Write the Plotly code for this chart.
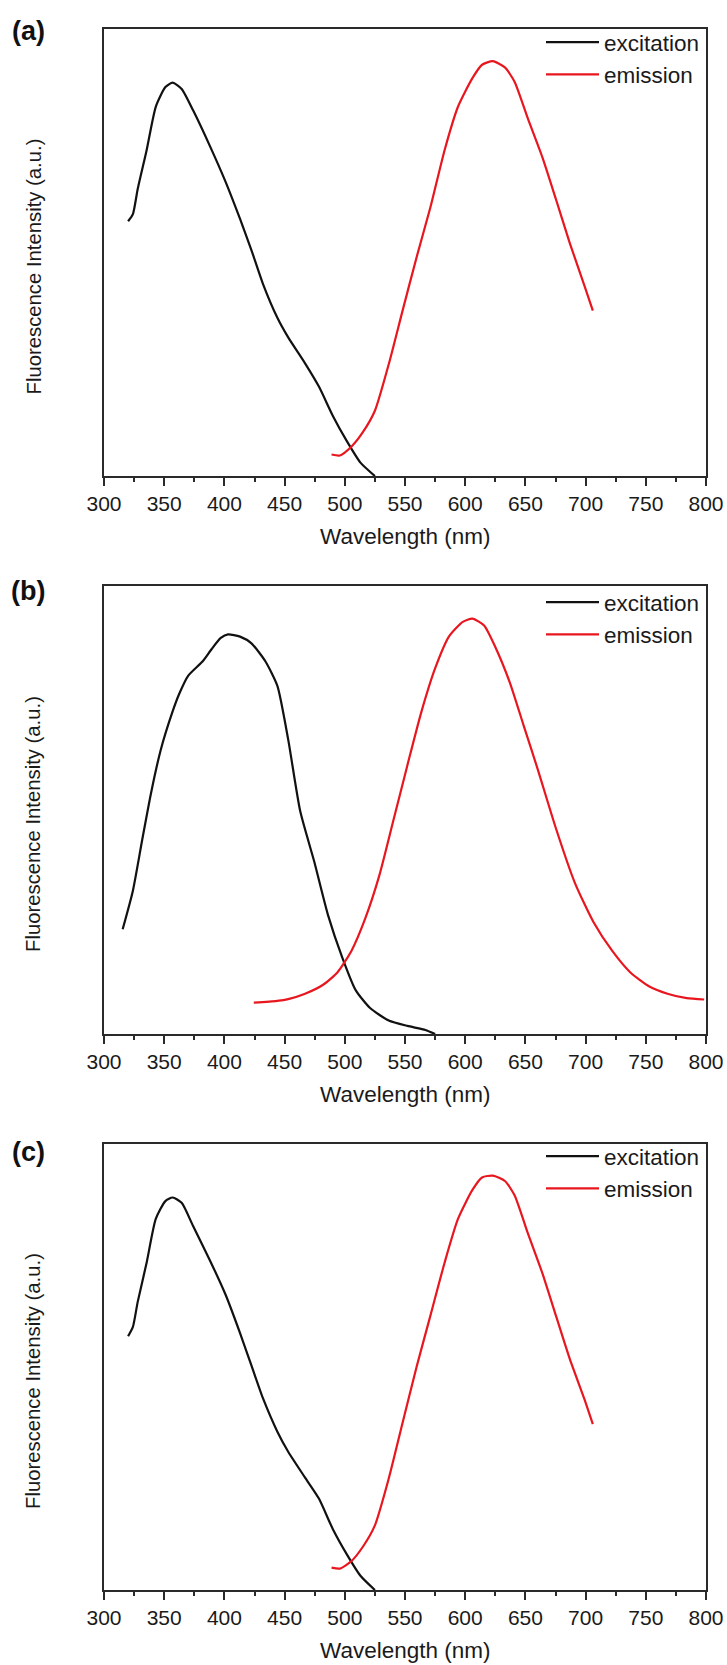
import plotly.graph_objects as go

W, H = 727, 1665

# ---------------- data (wavelength nm, normalized intensity) ----------------
# Panel (a)
a_exc_x = [320, 324, 328, 335.5, 343, 351, 357, 364.5, 374, 388, 401, 413, 422.5, 432, 444, 453, 467, 478.5, 490, 501.7, 513, 525]
a_exc_y = [0.57, 0.586, 0.642, 0.73, 0.826, 0.87, 0.88, 0.866, 0.818, 0.738, 0.658, 0.575, 0.505, 0.43, 0.354, 0.31, 0.252, 0.2, 0.135, 0.078, 0.03, 0.0]
a_em_x = [489, 496, 505.6, 515, 525, 536.5, 548, 559.7, 571, 583, 594, 606, 614, 623, 633, 641, 652, 664, 675.5, 687, 699, 706]
a_em_y = [0.048, 0.046, 0.066, 0.098, 0.146, 0.25, 0.37, 0.49, 0.6, 0.73, 0.826, 0.89, 0.92, 0.928, 0.914, 0.882, 0.8, 0.714, 0.618, 0.52, 0.426, 0.37]

# Panel (b)
b_exc_x = [315.5, 324, 331.7, 339, 347, 357, 362.6, 370, 382, 389.6, 397, 403, 413, 422.5, 434, 444, 453, 463, 474.6, 486, 498, 509, 521, 536.5, 552, 567, 575]
b_exc_y = [0.234, 0.32, 0.433, 0.537, 0.633, 0.72, 0.76, 0.8, 0.832, 0.86, 0.884, 0.892, 0.887, 0.872, 0.832, 0.777, 0.657, 0.497, 0.385, 0.266, 0.17, 0.098, 0.058, 0.03, 0.018, 0.009, 0.0]
b_em_x = [424.4, 443.7, 453, 467, 482, 494, 505.6, 517, 528.7, 540, 552, 563.5, 575, 586.7, 598, 606, 615.7, 625, 637, 648.5, 660, 675.6, 691, 706.5, 722, 737, 753, 768, 784, 798.5]
b_em_y = [0.07, 0.074, 0.078, 0.09, 0.11, 0.138, 0.186, 0.258, 0.354, 0.473, 0.6, 0.718, 0.816, 0.888, 0.92, 0.927, 0.912, 0.864, 0.785, 0.689, 0.593, 0.457, 0.338, 0.25, 0.186, 0.138, 0.106, 0.09, 0.08, 0.077]

# Panel (c)
c_exc_x = [320, 324, 328, 335.5, 343, 351, 357, 364.5, 374, 388, 401, 413, 422.5, 432, 444, 453, 467, 478.5, 490, 501.7, 513, 525]
c_exc_y = [0.569, 0.59, 0.646, 0.735, 0.832, 0.872, 0.88, 0.868, 0.816, 0.739, 0.662, 0.576, 0.503, 0.43, 0.355, 0.31, 0.252, 0.205, 0.137, 0.08, 0.032, 0.0]
c_em_x = [489, 496, 505.6, 515, 525, 536.5, 548, 559.7, 571, 583, 594, 606, 614, 623, 633, 641, 652, 664, 675.5, 687, 699, 706]
c_em_y = [0.05, 0.048, 0.065, 0.097, 0.145, 0.25, 0.375, 0.501, 0.614, 0.735, 0.832, 0.897, 0.925, 0.929, 0.917, 0.885, 0.8, 0.711, 0.614, 0.517, 0.428, 0.372]

panel_labels = ["(a)", "(b)", "(c)"]
series_names = ["excitation", "emission"]
x_ticks = [300, 350, 400, 450, 500, 550, 600, 650, 700, 750, 800]
x_title = "Wavelength (nm)"
y_title = "Fluorescence Intensity (a.u.)"

# ---------------- layout geometry (pixels) ----------------
PX_L, PX_R = 104, 706
panels_px = [(29, 476), (586, 1034), (1144, 1590)]  # (top, bottom)
legend_top_px = [21, 581, 1135]
label_y_px = [31, 591, 1152]

FONT = "Liberation Sans, Arial, sans-serif"
TXT = "#1a1a1a"
BLACK = "#111111"
RED = "rgb(232,22,30)"
AXC = "#2a2a2a"

fig = go.Figure()

data = [
    (a_exc_x, a_exc_y, a_em_x, a_em_y),
    (b_exc_x, b_exc_y, b_em_x, b_em_y),
    (c_exc_x, c_exc_y, c_em_x, c_em_y),
]

for i, (ex, ey, mx, my) in enumerate(data):
    n = "" if i == 0 else str(i + 1)
    leg = "legend" if i == 0 else f"legend{i+1}"
    fig.add_trace(go.Scatter(x=ex, y=ey, mode="lines", name=series_names[0],
                             line=dict(color=BLACK, width=2.2, shape="spline", smoothing=0.6),
                             xaxis="x" + n, yaxis="y" + n, legend=leg))
    fig.add_trace(go.Scatter(x=mx, y=my, mode="lines", name=series_names[1],
                             line=dict(color=RED, width=2.2, shape="spline", smoothing=0.6),
                             xaxis="x" + n, yaxis="y" + n, legend=leg))

layout = dict(
    width=W, height=H,
    margin=dict(l=0, r=0, t=0, b=0, autoexpand=False),
    paper_bgcolor="white", plot_bgcolor="white",
    font=dict(family=FONT, color=TXT, size=20),
    showlegend=True,
)

annotations = []
for i, (top, bot) in enumerate(panels_px):
    n = "" if i == 0 else str(i + 1)
    dom_y = [1 - bot / H, 1 - top / H]
    layout["xaxis" + n] = dict(
        domain=[PX_L / W, PX_R / W], anchor="y" + n, range=[300, 800],
        tickmode="array", tickvals=x_ticks, ticktext=[str(t) for t in x_ticks],
        ticks="outside", ticklen=8, tickwidth=1.5, tickcolor=AXC,
        minor=dict(dtick=25, tick0=300, ticks="outside", ticklen=4, tickwidth=1.5, tickcolor=AXC),
        showline=True, linecolor=AXC, linewidth=1.8, mirror=True,
        showgrid=False, zeroline=False, automargin=False,
        tickfont=dict(size=21, family=FONT, color=TXT),
    )
    layout["yaxis" + n] = dict(
        domain=dom_y, anchor="x" + n, range=[0, 1],
        showticklabels=False, ticks="",
        showline=True, linecolor=AXC, linewidth=1.8, mirror=True,
        showgrid=False, zeroline=False, automargin=False,
    )
    leg = "legend" if i == 0 else f"legend{i+1}"
    layout[leg] = dict(
        x=541 / W, xanchor="left", y=1 - legend_top_px[i] / H, yanchor="top",
        xref="paper", yref="paper",
        bgcolor="rgba(0,0,0,0)", borderwidth=0,
        font=dict(size=22.5, family=FONT, color=TXT),
        itemwidth=53, tracegroupgap=0,
    )
    # panel label
    annotations.append(dict(
        text="<b>" + panel_labels[i] + "</b>", x=28 / W, y=1 - label_y_px[i] / H,
        xref="paper", yref="paper", xanchor="center", yanchor="middle",
        showarrow=False, font=dict(size=27, family=FONT, color="#111111"),
    ))
    # x-axis title
    annotations.append(dict(
        text=x_title, x=(PX_L + PX_R) / 2 / W, y=1 - (bot + 60) / H,
        xref="paper", yref="paper", xanchor="center", yanchor="middle",
        showarrow=False, font=dict(size=22.5, family=FONT, color=TXT),
    ))
    # y-axis title
    annotations.append(dict(
        text=y_title, x=33 / W, y=1 - ((top + bot) / 2 + 14) / H,
        xref="paper", yref="paper", xanchor="center", yanchor="middle",
        textangle=-90, showarrow=False, font=dict(size=20.3, family=FONT, color=TXT),
    ))

layout["annotations"] = annotations
fig.update_layout(**layout)

fig.write_html("out.html")
